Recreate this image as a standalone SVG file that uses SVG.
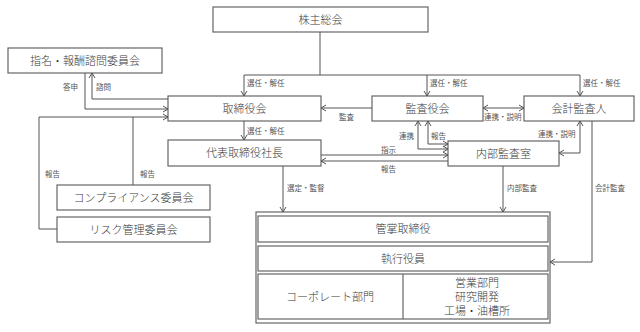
<svg xmlns="http://www.w3.org/2000/svg" width="640" height="332" viewBox="0 0 640 332">
<defs>
<marker id="ah" markerUnits="userSpaceOnUse" markerWidth="8" markerHeight="8" refX="6" refY="4" orient="auto-start-reverse">
<path d="M1,1 L6,4 L1,7" fill="none" stroke="#555" stroke-width="1"/>
</marker>
<style>
.box{fill:#fff;stroke:#666;stroke-width:1.2}
.t{font-family:"Liberation Serif","Noto Sans CJK JP",serif;font-size:11px;font-weight:300;fill:#3a3a3a;text-anchor:middle;dominant-baseline:central}
.l{font-family:"Liberation Serif","Noto Sans CJK JP",serif;font-size:7.5px;fill:#555}
.c{fill:none;stroke:#555;stroke-width:1}
.a{marker-end:url(#ah)}
.b{marker-start:url(#ah);marker-end:url(#ah)}
</style>
</defs>
<rect width="640" height="332" fill="#fff"/>
<g id="n-shareholders"><rect class="box" x="213" y="7" width="215" height="25"/><text class="t" x="320.5" y="19.5">株主総会</text></g>
<g id="n-nomination"><rect class="box" x="8" y="48" width="154" height="25"/><text class="t" x="85" y="60.5">指名・報酬諮問委員会</text></g>
<g id="n-board"><rect class="box" x="168" y="96" width="153" height="25"/><text class="t" x="244.5" y="108.5">取締役会</text></g>
<g id="n-president"><rect class="box" x="168" y="140" width="153" height="26"/><text class="t" x="244.5" y="153">代表取締役社長</text></g>
<g id="n-auditors"><rect class="box" x="372" y="96" width="111" height="25"/><text class="t" x="427.5" y="108.5">監査役会</text></g>
<g id="n-accounting"><rect class="box" x="524" y="96" width="110" height="25"/><text class="t" x="579" y="108.5">会計監査人</text></g>
<g id="n-internal"><rect class="box" x="448" y="141" width="111" height="25"/><text class="t" x="503.5" y="153.5">内部監査室</text></g>
<g id="n-compliance"><rect class="box" x="57" y="185" width="153" height="25"/><text class="t" x="133.5" y="197.5">コンプライアンス委員会</text></g>
<g id="n-risk"><rect class="box" x="57" y="217" width="153" height="25"/><text class="t" x="133.5" y="229.5">リスク管理委員会</text></g>
<g id="n-execution">
<rect class="box" x="256" y="212" width="294" height="111"/>
<rect class="box" x="258" y="216" width="290" height="26"/><text class="t" x="403" y="229">管掌取締役</text>
<rect class="box" x="258" y="246" width="290" height="25"/><text class="t" x="403" y="258.5">執行役員</text>
<rect class="box" x="258" y="274" width="290" height="45"/>
<line x1="403" y1="274" x2="403" y2="319" stroke="#666" stroke-width="1.2"/>
<text class="t" x="330" y="297">コーポレート部門</text>
<text class="t" x="477" y="283">営業部門</text>
<text class="t" x="477" y="297">研究開発</text>
<text class="t" x="477" y="311">工場・油槽所</text>
</g>
<g id="connectors">
<path class="c" d="M320,32 V75 M244,75 H580"/>
<path class="c a" d="M244,75 V96"/>
<path class="c a" d="M427,75 V96"/>
<path class="c a" d="M580,75 V96"/>
<path class="c a" d="M244,121 V140"/>
<path class="c a" d="M168,99 H92 V73"/>
<path class="c a" d="M85,73 V109 H168"/>
<path class="c a" d="M133,185 V117 H168"/>
<path class="c" d="M57,229 H39 V117 H133"/>
<path class="c a" d="M372,108 H321"/>
<path class="c b" d="M483,108 H524"/>
<path class="c b" d="M418,121 V149 H448"/>
<path class="c b" d="M428,121 V144 H448"/>
<path class="c a" d="M321,155 H448"/>
<path class="c a" d="M448,161 H321"/>
<path class="c b" d="M580,121 V153 H559"/>
<path class="c a" d="M283,166 V212"/>
<path class="c a" d="M503,166 V212"/>
<path class="c a" d="M592,121 V262 H550"/>
</g>
<g id="labels">
<text class="l" x="247" y="86">選任・解任</text>
<text class="l" x="430" y="86">選任・解任</text>
<text class="l" x="583" y="86">選任・解任</text>
<text class="l" x="247" y="134">選任・解任</text>
<text class="l" x="63" y="90">答申</text>
<text class="l" x="96" y="90">諮問</text>
<text class="l" x="45" y="177">報告</text>
<text class="l" x="140" y="177">報告</text>
<text class="l" x="339" y="120">監査</text>
<text class="l" x="484" y="120">連携・説明</text>
<text class="l" x="399" y="139">連携</text>
<text class="l" x="431" y="139">報告</text>
<text class="l" x="538" y="137">連携・説明</text>
<text class="l" x="381" y="153">指示</text>
<text class="l" x="381" y="172">報告</text>
<text class="l" x="287" y="191">選定・監督</text>
<text class="l" x="507" y="191">内部監査</text>
<text class="l" x="595" y="191">会計監査</text>
</g>
</svg>
